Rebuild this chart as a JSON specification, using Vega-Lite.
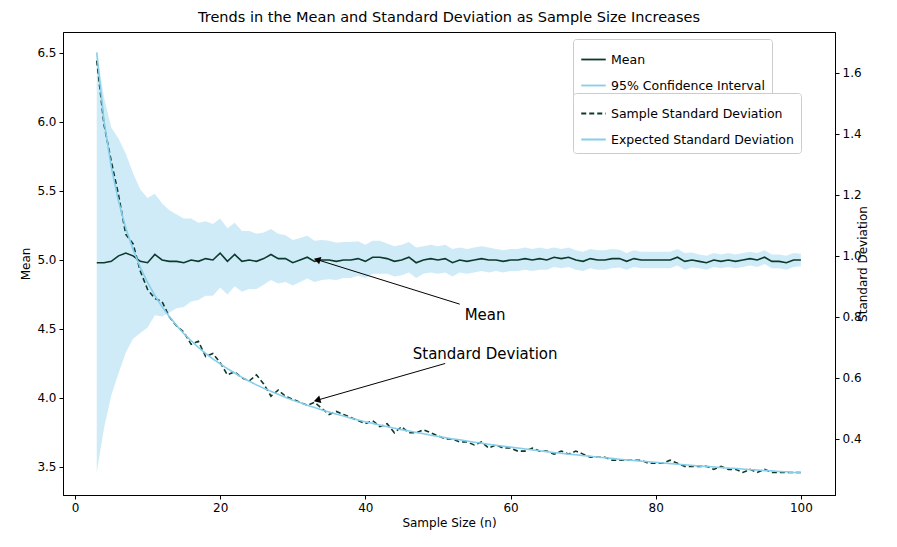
{
  "$schema": "https://vega.github.io/schema/vega-lite/v6.json",
  "autosize": "none",
  "width": 772,
  "height": 463,
  "padding": {"left": 63, "top": 32, "right": 62, "bottom": 52},
  "background": "white",
  "title": {"text": "Trends in the Mean and Standard Deviation as Sample Size Increases", "font": "DejaVu Sans", "fontSize": 14.5, "fontWeight": "normal", "color": "black", "offset": 7},
  "config": {
    "font": "DejaVu Sans",
    "view": {"stroke": "black", "strokeWidth": 1},
    "axis": {"grid": false, "domainColor": "black", "tickColor": "black", "labelColor": "black", "titleColor": "black", "labelFontSize": 12, "titleFontSize": 12, "titleFontWeight": "normal", "tickSize": 4, "labelPadding": 3},
    "legend": {"orient": "none", "labelFontSize": 12.5, "labelColor": "black", "labelLimit": 400, "strokeColor": "#cccccc", "fillColor": "white", "padding": 7, "cornerRadius": 3, "symbolSize": 600, "rowPadding": 6, "title": null}
  },
  "datasets": {
    "runs": [
      {"n":3,"m":4.98,"lo":3.46,"hi":6.5,"s":1.64,"e":1.667},
      {"n":4,"m":4.98,"lo":3.78,"hi":6.18,"s":1.43,"e":1.443},
      {"n":5,"m":4.99,"lo":4.02,"hi":5.96,"s":1.31,"e":1.291},
      {"n":6,"m":5.03,"lo":4.18,"hi":5.88,"s":1.2,"e":1.179},
      {"n":7,"m":5.05,"lo":4.33,"hi":5.77,"s":1.07,"e":1.091},
      {"n":8,"m":5.03,"lo":4.43,"hi":5.63,"s":1.04,"e":1.021},
      {"n":9,"m":4.99,"lo":4.47,"hi":5.51,"s":0.95,"e":0.962},
      {"n":10,"m":4.98,"lo":4.51,"hi":5.45,"s":0.89,"e":0.913},
      {"n":11,"m":5.04,"lo":4.6,"hi":5.48,"s":0.86,"e":0.87},
      {"n":12,"m":5.0,"lo":4.59,"hi":5.41,"s":0.85,"e":0.833},
      {"n":13,"m":4.99,"lo":4.62,"hi":5.36,"s":0.8,"e":0.801},
      {"n":14,"m":4.99,"lo":4.65,"hi":5.33,"s":0.77,"e":0.772},
      {"n":15,"m":4.98,"lo":4.66,"hi":5.3,"s":0.75,"e":0.745},
      {"n":16,"m":5.0,"lo":4.7,"hi":5.3,"s":0.71,"e":0.722},
      {"n":17,"m":4.99,"lo":4.71,"hi":5.27,"s":0.72,"e":0.7},
      {"n":18,"m":5.01,"lo":4.74,"hi":5.28,"s":0.67,"e":0.68},
      {"n":19,"m":5.0,"lo":4.74,"hi":5.26,"s":0.68,"e":0.662},
      {"n":20,"m":5.05,"lo":4.8,"hi":5.3,"s":0.65,"e":0.646},
      {"n":21,"m":4.99,"lo":4.75,"hi":5.23,"s":0.61,"e":0.63},
      {"n":22,"m":5.04,"lo":4.81,"hi":5.27,"s":0.62,"e":0.616},
      {"n":23,"m":4.99,"lo":4.77,"hi":5.21,"s":0.6,"e":0.602},
      {"n":24,"m":5.0,"lo":4.79,"hi":5.21,"s":0.59,"e":0.589},
      {"n":25,"m":4.99,"lo":4.79,"hi":5.19,"s":0.61,"e":0.577},
      {"n":26,"m":5.01,"lo":4.82,"hi":5.2,"s":0.58,"e":0.566},
      {"n":27,"m":5.04,"lo":4.855,"hi":5.225,"s":0.54,"e":0.556},
      {"n":28,"m":5.01,"lo":4.83,"hi":5.19,"s":0.56,"e":0.546},
      {"n":29,"m":5.01,"lo":4.84,"hi":5.18,"s":0.54,"e":0.536},
      {"n":30,"m":4.98,"lo":4.815,"hi":5.145,"s":0.53,"e":0.527},
      {"n":31,"m":5.0,"lo":4.84,"hi":5.16,"s":0.52,"e":0.519},
      {"n":32,"m":5.02,"lo":4.865,"hi":5.175,"s":0.51,"e":0.51},
      {"n":33,"m":4.99,"lo":4.84,"hi":5.14,"s":0.52,"e":0.503},
      {"n":34,"m":5.0,"lo":4.855,"hi":5.145,"s":0.5,"e":0.495},
      {"n":35,"m":5.0,"lo":4.86,"hi":5.14,"s":0.48,"e":0.488},
      {"n":36,"m":4.99,"lo":4.855,"hi":5.125,"s":0.49,"e":0.481},
      {"n":37,"m":5.0,"lo":4.87,"hi":5.13,"s":0.48,"e":0.475},
      {"n":38,"m":5.0,"lo":4.87,"hi":5.13,"s":0.47,"e":0.468},
      {"n":39,"m":5.01,"lo":4.885,"hi":5.135,"s":0.46,"e":0.462},
      {"n":40,"m":4.99,"lo":4.87,"hi":5.11,"s":0.45,"e":0.456},
      {"n":41,"m":5.02,"lo":4.9,"hi":5.14,"s":0.46,"e":0.451},
      {"n":42,"m":5.02,"lo":4.9,"hi":5.14,"s":0.44,"e":0.445},
      {"n":43,"m":5.01,"lo":4.9,"hi":5.12,"s":0.45,"e":0.44},
      {"n":44,"m":4.99,"lo":4.88,"hi":5.1,"s":0.42,"e":0.435},
      {"n":45,"m":5.0,"lo":4.89,"hi":5.11,"s":0.44,"e":0.43},
      {"n":46,"m":5.02,"lo":4.91,"hi":5.13,"s":0.42,"e":0.426},
      {"n":47,"m":4.98,"lo":4.87,"hi":5.09,"s":0.42,"e":0.421},
      {"n":48,"m":5.0,"lo":4.9,"hi":5.1,"s":0.43,"e":0.417},
      {"n":49,"m":5.01,"lo":4.91,"hi":5.11,"s":0.42,"e":0.412},
      {"n":50,"m":5.0,"lo":4.9,"hi":5.1,"s":0.41,"e":0.408},
      {"n":51,"m":5.01,"lo":4.91,"hi":5.11,"s":0.4,"e":0.404},
      {"n":52,"m":4.98,"lo":4.88,"hi":5.08,"s":0.4,"e":0.4},
      {"n":53,"m":5.0,"lo":4.91,"hi":5.09,"s":0.39,"e":0.397},
      {"n":54,"m":4.99,"lo":4.9,"hi":5.08,"s":0.39,"e":0.393},
      {"n":55,"m":5.0,"lo":4.91,"hi":5.09,"s":0.38,"e":0.389},
      {"n":56,"m":5.01,"lo":4.92,"hi":5.1,"s":0.39,"e":0.386},
      {"n":57,"m":5.0,"lo":4.91,"hi":5.09,"s":0.37,"e":0.382},
      {"n":58,"m":5.0,"lo":4.92,"hi":5.08,"s":0.38,"e":0.379},
      {"n":59,"m":4.99,"lo":4.91,"hi":5.07,"s":0.37,"e":0.376},
      {"n":60,"m":5.0,"lo":4.92,"hi":5.08,"s":0.37,"e":0.373},
      {"n":61,"m":5.0,"lo":4.92,"hi":5.08,"s":0.36,"e":0.37},
      {"n":62,"m":5.01,"lo":4.93,"hi":5.09,"s":0.36,"e":0.367},
      {"n":63,"m":5.0,"lo":4.92,"hi":5.08,"s":0.37,"e":0.364},
      {"n":64,"m":5.01,"lo":4.93,"hi":5.09,"s":0.36,"e":0.361},
      {"n":65,"m":5.0,"lo":4.93,"hi":5.08,"s":0.36,"e":0.358},
      {"n":66,"m":5.02,"lo":4.95,"hi":5.09,"s":0.35,"e":0.355},
      {"n":67,"m":5.01,"lo":4.94,"hi":5.08,"s":0.36,"e":0.353},
      {"n":68,"m":5.02,"lo":4.95,"hi":5.09,"s":0.35,"e":0.35},
      {"n":69,"m":5.0,"lo":4.93,"hi":5.07,"s":0.36,"e":0.348},
      {"n":70,"m":4.99,"lo":4.92,"hi":5.06,"s":0.35,"e":0.345},
      {"n":71,"m":5.01,"lo":4.94,"hi":5.08,"s":0.34,"e":0.343},
      {"n":72,"m":5.0,"lo":4.93,"hi":5.07,"s":0.34,"e":0.34},
      {"n":73,"m":5.0,"lo":4.93,"hi":5.07,"s":0.34,"e":0.338},
      {"n":74,"m":5.01,"lo":4.94,"hi":5.08,"s":0.33,"e":0.336},
      {"n":75,"m":5.01,"lo":4.945,"hi":5.075,"s":0.33,"e":0.333},
      {"n":76,"m":4.99,"lo":4.93,"hi":5.05,"s":0.33,"e":0.331},
      {"n":77,"m":5.01,"lo":4.95,"hi":5.07,"s":0.33,"e":0.329},
      {"n":78,"m":5.0,"lo":4.94,"hi":5.06,"s":0.33,"e":0.327},
      {"n":79,"m":5.0,"lo":4.94,"hi":5.06,"s":0.32,"e":0.325},
      {"n":80,"m":5.0,"lo":4.94,"hi":5.06,"s":0.32,"e":0.323},
      {"n":81,"m":5.0,"lo":4.94,"hi":5.06,"s":0.32,"e":0.321},
      {"n":82,"m":5.0,"lo":4.94,"hi":5.06,"s":0.33,"e":0.319},
      {"n":83,"m":5.02,"lo":4.96,"hi":5.08,"s":0.32,"e":0.317},
      {"n":84,"m":4.99,"lo":4.93,"hi":5.05,"s":0.31,"e":0.315},
      {"n":85,"m":5.0,"lo":4.945,"hi":5.055,"s":0.31,"e":0.313},
      {"n":86,"m":4.99,"lo":4.94,"hi":5.04,"s":0.31,"e":0.311},
      {"n":87,"m":4.98,"lo":4.93,"hi":5.03,"s":0.31,"e":0.31},
      {"n":88,"m":5.0,"lo":4.95,"hi":5.05,"s":0.3,"e":0.308},
      {"n":89,"m":4.99,"lo":4.94,"hi":5.04,"s":0.31,"e":0.306},
      {"n":90,"m":5.0,"lo":4.95,"hi":5.05,"s":0.3,"e":0.304},
      {"n":91,"m":4.99,"lo":4.94,"hi":5.04,"s":0.3,"e":0.303},
      {"n":92,"m":5.0,"lo":4.95,"hi":5.05,"s":0.29,"e":0.301},
      {"n":93,"m":5.01,"lo":4.96,"hi":5.06,"s":0.3,"e":0.299},
      {"n":94,"m":5.0,"lo":4.95,"hi":5.05,"s":0.29,"e":0.298},
      {"n":95,"m":5.02,"lo":4.97,"hi":5.07,"s":0.3,"e":0.296},
      {"n":96,"m":4.99,"lo":4.94,"hi":5.04,"s":0.29,"e":0.295},
      {"n":97,"m":4.99,"lo":4.94,"hi":5.04,"s":0.29,"e":0.293},
      {"n":98,"m":4.98,"lo":4.93,"hi":5.03,"s":0.29,"e":0.292},
      {"n":99,"m":5.0,"lo":4.95,"hi":5.05,"s":0.29,"e":0.29},
      {"n":100,"m":5.0,"lo":4.955,"hi":5.045,"s":0.29,"e":0.289}
    ],
    "notes": [
      {"label": "Mean", "tx": 56.5, "ty": 4.6, "x0": 53.0, "y0": 4.68, "x1": 33.5, "y1": 5.0},
      {"label": "Standard Deviation", "tx": 56.5, "ty": 4.32, "x0": 51.0, "y0": 4.25, "x1": 33.5, "y1": 3.986}
    ]
  },
  "resolve": {"scale": {"y": "independent", "color": "independent", "strokeDash": "independent"}, "legend": {"color": "independent"}},
  "layer": [
    {
      "layer": [
        {
          "data": {"name": "runs"},
          "mark": {"type": "area", "opacity": 0.4},
          "encoding": {
            "x": {"field": "n", "type": "quantitative", "scale": {"domain": [-1.65, 104.7], "nice": false, "zero": false}, "axis": {"title": "Sample Size (n)", "values": [0, 20, 40, 60, 80, 100]}},
            "y": {"field": "lo", "type": "quantitative", "scale": {"domain": [3.297, 6.652], "nice": false, "zero": false}, "axis": {"title": "Mean", "values": [3.5, 4, 4.5, 5, 5.5, 6, 6.5], "format": ".1f"}},
            "y2": {"field": "hi"},
            "color": {"datum": "95% Confidence Interval", "type": "nominal", "scale": {"domain": ["Mean", "95% Confidence Interval"], "range": ["#0b3a2c", "#87ceeb"]},
              "legend": {"legendX": 510, "legendY": 7, "symbolType": "stroke", "symbolStrokeWidth": 1.8, "symbolOpacity": 1}}
          }
        },
        {
          "data": {"name": "runs"},
          "mark": {"type": "line", "strokeWidth": 1.6},
          "encoding": {
            "x": {"field": "n", "type": "quantitative"},
            "y": {"field": "m", "type": "quantitative"},
            "color": {"datum": "Mean", "type": "nominal"}
          }
        },
        {
          "data": {"name": "notes"},
          "mark": {"type": "rule", "color": "black", "strokeWidth": 1},
          "encoding": {
            "x": {"field": "x0", "type": "quantitative"},
            "y": {"field": "y0", "type": "quantitative"},
            "x2": {"field": "x1"},
            "y2": {"field": "y1"}
          }
        },
        {
          "data": {"name": "notes"},
          "transform": [{"filter": "datum.label == 'Mean'"}],
          "mark": {"type": "point", "shape": "triangle", "filled": true, "color": "black", "size": 60, "angle": 286.5, "opacity": 1},
          "encoding": {
            "x": {"field": "x1", "type": "quantitative"},
            "y": {"field": "y1", "type": "quantitative"}
          }
        },
        {
          "data": {"name": "notes"},
          "transform": [{"filter": "datum.label != 'Mean'"}],
          "mark": {"type": "point", "shape": "triangle", "filled": true, "color": "black", "size": 60, "angle": 254, "opacity": 1},
          "encoding": {
            "x": {"field": "x1", "type": "quantitative"},
            "y": {"field": "y1", "type": "quantitative"}
          }
        },
        {
          "data": {"name": "notes"},
          "mark": {"type": "text", "fontSize": 15, "color": "black", "align": "center", "baseline": "middle"},
          "encoding": {
            "x": {"field": "tx", "type": "quantitative"},
            "y": {"field": "ty", "type": "quantitative"},
            "text": {"field": "label"}
          }
        }
      ]
    },
    {
      "data": {"name": "runs"},
      "layer": [
        {
          "mark": {"type": "line", "strokeWidth": 1.6},
          "encoding": {
            "x": {"field": "n", "type": "quantitative"},
            "y": {"field": "s", "type": "quantitative", "scale": {"domain": [0.216, 1.734], "nice": false, "zero": false}, "axis": {"title": "Standard Deviation", "orient": "right", "titleAngle": 270, "titlePadding": 8, "values": [0.4, 0.6, 0.8, 1.0, 1.2, 1.4, 1.6], "format": ".1f"}},
            "color": {"datum": "Sample Standard Deviation", "type": "nominal", "scale": {"domain": ["Sample Standard Deviation", "Expected Standard Deviation"], "range": ["#0b3a2c", "#87ceeb"]}, "legend": {"legendX": 510, "legendY": 61, "symbolType": "stroke", "symbolStrokeWidth": 1.8}},
            "strokeDash": {"datum": "Sample Standard Deviation", "type": "nominal", "scale": {"domain": ["Sample Standard Deviation", "Expected Standard Deviation"], "range": [[5, 3], [1, 0]]}}
          }
        },
        {
          "mark": {"type": "line", "strokeWidth": 1.6},
          "encoding": {
            "x": {"field": "n", "type": "quantitative"},
            "y": {"field": "e", "type": "quantitative"},
            "color": {"datum": "Expected Standard Deviation", "type": "nominal"},
            "strokeDash": {"datum": "Expected Standard Deviation", "type": "nominal"}
          }
        }
      ]
    }
  ]
}
